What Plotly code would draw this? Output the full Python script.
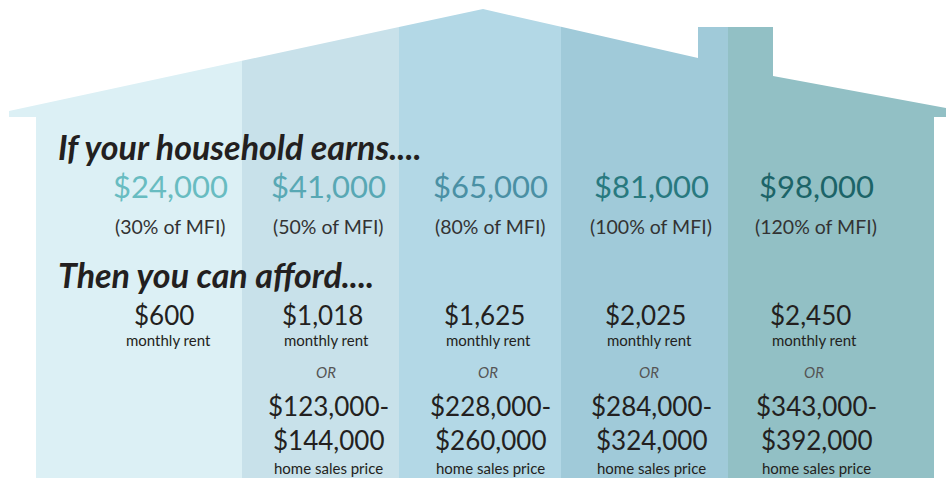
import numpy as np
import plotly.graph_objects as go

# ---- data ----
incomes = ["$24,000", "$41,000", "$65,000", "$81,000", "$98,000"]
mfi_pct = ["30%", "50%", "80%", "100%", "120%"]
rents = ["$600", "$1,018", "$1,625", "$2,025", "$2,450"]
price_low = [None, "$123,000", "$228,000", "$284,000", "$343,000"]
price_high = [None, "$144,000", "$260,000", "$324,000", "$392,000"]

# ---- layout / style (not data) ----
W, H = 946, 478
col_edges = [36, 242, 399, 561, 728, 934]
col_fill = ["#dcf0f5", "#c8e1ea", "#b3d8e6", "#a0cad9", "#92c0c5"]
income_col = ["#68bcc1", "#58a8b4", "#4a90a4", "#28797f", "#1c6468"]
col_cx = [170, 328, 490, 651, 816]
roof_x = [9, 483, 698, 698, 773, 773, 946]
roof_y = [111, 9, 58, 27, 27, 76, 108]
eave_y = 117
dark = "#231f20"
FONT = "Lato"

fig = go.Figure()

rx = np.array(roof_x, dtype=float)
ry = np.array(roof_y, dtype=float)
n = len(col_fill)
for i in range(n):
    x0, x1 = col_edges[i], col_edges[i + 1]
    tx0 = roof_x[0] if i == 0 else x0
    tx1 = roof_x[-1] if i == n - 1 else x1
    px, py = [x0], [H]
    if i == 0:
        px += [x0, tx0]
        py += [eave_y, eave_y]
    px.append(tx0)
    py.append(float(np.interp(tx0, rx, ry)))
    for xx, yy in zip(rx, ry):
        if tx0 < xx < tx1:
            px.append(xx)
            py.append(yy)
    px.append(tx1)
    py.append(float(np.interp(tx1, rx, ry)) if i < n - 1 else roof_y[-1])
    if i == n - 1:
        px += [tx1, x1]
        py += [eave_y, eave_y]
    px.append(x1)
    py.append(H)
    fig.add_trace(go.Scatter(x=px, y=py, fill="toself", fillcolor=col_fill[i],
                             mode="lines", line=dict(width=0, color=col_fill[i]),
                             hoverinfo="skip", showlegend=False))

ann = []
def add(text, x, y, size, color=dark, weight="normal", style="normal", xanchor="center"):
    ann.append(dict(text=text, x=x, y=y, xref="x", yref="y", showarrow=False,
                    xanchor=xanchor, yanchor="middle",
                    font=dict(family=FONT, size=size, color=color, weight=weight, style=style)))

add("If your household earns....", 56, 146, 34, weight="bold", style="italic", xanchor="left")
add("Then you can afford....", 56, 274, 34, weight="bold", style="italic", xanchor="left")

for i in range(n):
    cx = col_cx[i]
    add(incomes[i], cx, 186, 31, color=income_col[i])
    add("(" + mfi_pct[i] + " of MFI)", cx, 226, 19.5, color="#333333")
    add(rents[i], cx - 6, 315, 26)
    add("monthly rent", cx - 2, 340, 15)
    if price_low[i]:
        add("OR", cx - 2, 372, 15, color="#555555", style="italic")
        add(price_low[i] + "-", cx, 406, 26)
        add(price_high[i], cx, 440, 26)
        add("home sales price", cx, 468, 15)

fig.update_layout(
    width=W, height=H,
    margin=dict(l=0, r=0, t=0, b=0),
    paper_bgcolor="white", plot_bgcolor="white",
    xaxis=dict(range=[0, W], visible=False, fixedrange=True),
    yaxis=dict(range=[H, 0], visible=False, fixedrange=True),
    annotations=ann,
    showlegend=False,
)

fig.write_html("out.html",
               config={"displayModeBar": False},
               post_script="document.body.style.margin='0';document.body.style.overflow='hidden';")
